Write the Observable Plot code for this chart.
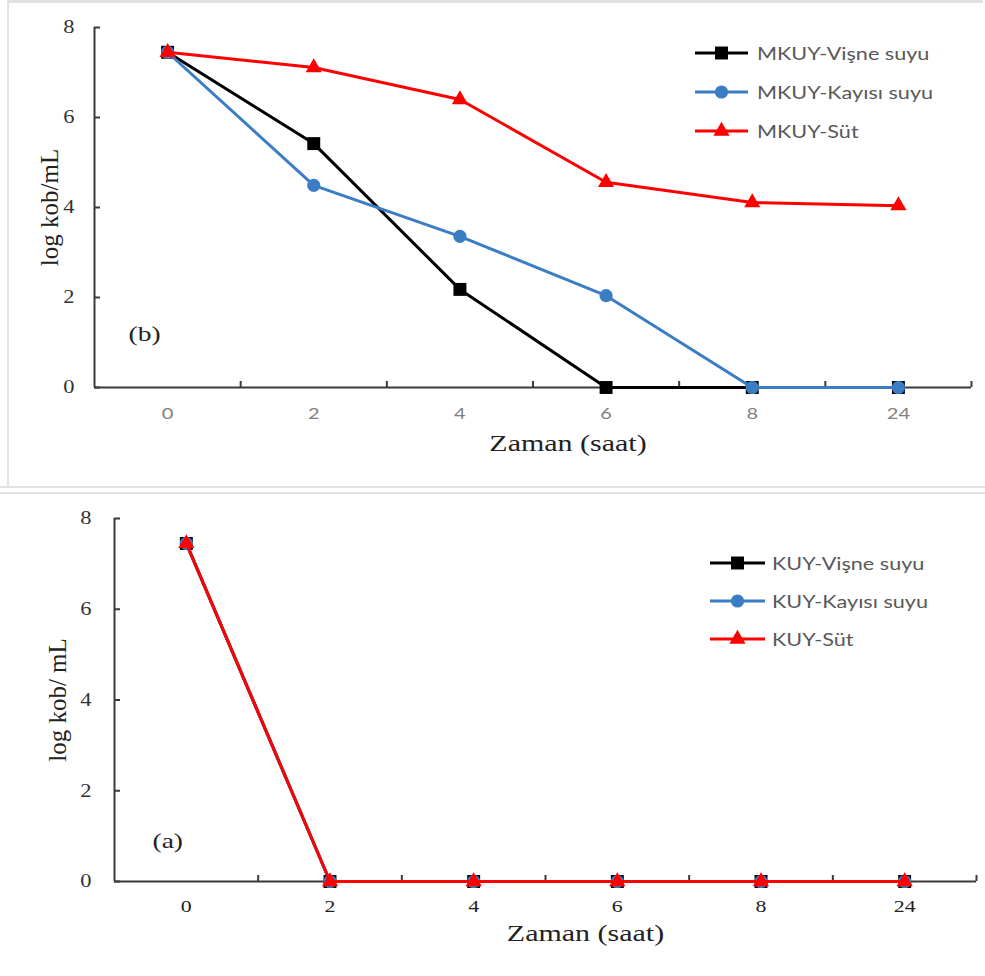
<!DOCTYPE html>
<html><head><meta charset="utf-8">
<script src="https://cdn.jsdelivr.net/npm/d3@7"></script>
<script src="https://cdn.jsdelivr.net/npm/@observablehq/plot@0.6"></script>
<style>
body{margin:0;background:#fff;}
#root{position:relative;width:985px;height:976px;overflow:hidden;background:#fff;}
.panel{position:absolute;left:0;width:985px;}
.panel svg{display:block;}
.row{position:absolute;display:flex;align-items:center;height:20px;}
.row svg{display:block;flex:none;}
.row span{font-family:Lato,"Open Sans",sans-serif;font-size:18px;color:#595959;transform:scaleX(1.2);transform-origin:left center;white-space:nowrap;line-height:20px;}
.line{position:absolute;background:#e2e2e2;}
</style></head>
<body><div id="root"></div>
<script>
// ---- data ----
const times = ["0", "2", "4", "6", "8", "24"];
const yTicks = [0, 2, 4, 6, 8];
const namesB = ["MKUY-Vişne suyu", "MKUY-Kayısı suyu", "MKUY-Süt"];
const namesA = ["KUY-Vişne suyu", "KUY-Kayısı suyu", "KUY-Süt"];
const visneB = [7.45, 5.42, 2.18, 0, 0, 0];
const kayisiB = [7.45, 4.49, 3.36, 2.04, 0, 0];
const sutB = [7.45, 7.11, 6.40, 4.56, 4.11, 4.04];
const visneA = [7.45, 0, 0, 0, 0, 0];
const kayisiA = [7.45, 0, 0, 0, 0, 0];
const sutA = [7.45, 0, 0, 0, 0, 0];
const xTitle = "Zaman (saat)";
const yTitleB = "log kob/mL";
const yTitleA = "log kob/ mL";

// ---- styles ----
const colors = ["#000000", "#3b7dc4", "#ff0000"];
const symbols = ["square", "circle", "triangle"];
const markerR = [7.3, 6.6, 6.0];
const serif = "Liberation Serif, Times New Roman, serif";
const sans = "Lato, Open Sans, sans-serif";
const STRETCH = 1.25;
const axisColor = "#3a3a3a";

const root = document.getElementById("root");

function rows(vals) { return vals.map((v, i) => ({i, t: times[i], v})); }

function stretch(svg) {
  svg.querySelectorAll("text").forEach(t => {
    const tr = t.getAttribute("transform") || "";
    if (/rotate/.test(tr)) return;
    const x = +(t.getAttribute("x") || 0);
    t.setAttribute("transform", `${tr} translate(${x},0) scale(${STRETCH},1) translate(${-x},0)`);
  });
}

function drawPanel(cfg) {
  const xDomain = [-0.5, times.length - 0.5];
  const bounds = d3.range(1, times.length + 1).map(k => k - 0.5);
  const marks = [
    Plot.ruleY([0], {stroke: axisColor, strokeWidth: 2}),
    Plot.ruleX([xDomain[0]], {stroke: axisColor, strokeWidth: 2}),
    Plot.axisX({ticks: bounds, tickSize: 6, dy: -6, tickFormat: () => "", stroke: axisColor, strokeWidth: 2, label: null}),
    Plot.axisY({ticks: yTicks, tickSize: 6, dx: 6, tickFormat: () => "", stroke: axisColor, strokeWidth: 2, label: null}),
    Plot.axisX({ticks: d3.range(times.length), tickSize: 0, tickPadding: cfg.xTickPad, tickFormat: i => times[i],
      fontFamily: cfg.xTickFont, fontSize: cfg.xTickSize, fill: cfg.xTickColor, label: null}),
    Plot.axisY({ticks: yTicks, tickSize: 0, tickPadding: cfg.yTickPad, fontFamily: serif, fontSize: 18, fill: "#333", label: null})
  ];
  cfg.values.forEach((vals, k) => {
    const data = rows(vals);
    marks.push(Plot.line(data, {x: "i", y: "v", stroke: colors[k], strokeWidth: 3}));
    marks.push(Plot.dot(data, {x: "i", y: "v", symbol: () => symbols[k], r: markerR[k], fill: colors[k], stroke: "none"}));
  });
  marks.push(Plot.text([cfg.yTitle], {text: d => d, frameAnchor: "left", textAnchor: "middle", rotate: -90, dx: cfg.yTitleDx,
    fontFamily: serif, fontSize: 25, fill: "#222"}));
  marks.push(Plot.text([xTitle], {text: d => d, frameAnchor: "bottom", textAnchor: "middle", dx: cfg.xTitleDx, dy: cfg.xTitleDy,
    fontFamily: serif, fontSize: 24, fill: "#222"}));
  marks.push(Plot.text([cfg.letter], {text: d => d, frameAnchor: "bottom-left", textAnchor: "start", dx: cfg.letterDx, dy: cfg.letterDy,
    fontFamily: serif, fontSize: 22, fill: "#222"}));

  const svg = Plot.plot({
    width: 985, height: cfg.height,
    marginLeft: cfg.m[0], marginRight: cfg.m[1], marginTop: cfg.m[2], marginBottom: cfg.m[3],
    x: {type: "linear", domain: xDomain},
    y: {domain: [0, 8]},
    style: {background: "transparent", overflow: "visible"},
    marks
  });
  stretch(svg);
  const div = document.createElement("div");
  div.className = "panel";
  div.style.top = cfg.top + "px";
  div.style.height = cfg.height + "px";
  div.appendChild(svg);
  root.appendChild(div);

  // legend
  cfg.names.forEach((name, k) => {
    const row = document.createElement("div");
    row.className = "row";
    row.style.left = cfg.legend.x + "px";
    row.style.top = (cfg.legend.ys[k] - 10) + "px";
    const sw = d3.create("svg").attr("width", cfg.legend.sw).attr("height", 20);
    sw.append("line").attr("x1", 0).attr("x2", cfg.legend.len).attr("y1", 10).attr("y2", 10)
      .attr("stroke", colors[k]).attr("stroke-width", 3);
    const sym = {square: d3.symbolSquare, circle: d3.symbolCircle, triangle: d3.symbolTriangle}[symbols[k]];
    sw.append("path").attr("d", d3.symbol(sym, Math.PI * markerR[k] * markerR[k])())
      .attr("transform", `translate(${cfg.legend.len / 2},10)`).attr("fill", colors[k]);
    row.appendChild(sw.node());
    const span = document.createElement("span");
    span.textContent = name;
    row.appendChild(span);
    root.appendChild(row);
  });
}

drawPanel({
  top: 0, height: 486, m: [94, 14, 27, 99],
  values: [visneB, kayisiB, sutB], names: namesB,
  xTickFont: sans, xTickSize: 16, xTickColor: "#808080", xTickPad: 20, yTickPad: 20,
  yTitle: yTitleB, yTitleDx: -45, xTitleDx: 35, xTitleDy: 63,
  letter: "(b)", letterDx: 34, letterDy: -47,
  legend: {x: 695, ys: [53, 92, 131], sw: 62, len: 53}
});

drawPanel({
  top: 494, height: 482, m: [114, 9, 24, 95],
  values: [visneA, kayisiA, sutA], names: namesA,
  xTickFont: serif, xTickSize: 17.5, xTickColor: "#222", xTickPad: 18, yTickPad: 23,
  yTitle: yTitleA, yTitleDx: -57, xTitleDx: 40, xTitleDy: 59,
  letter: "(a)", letterDx: 38, letterDy: -34,
  legend: {x: 710, ys: [563, 601, 639], sw: 62, len: 55}
});

// panel frames
[[7, 0, 976, 3], [7, 0, 2, 486], [0, 486, 985, 2], [0, 492, 985, 2]].forEach(([l, t, w, h]) => {
  const d = document.createElement("div");
  d.className = "line";
  Object.assign(d.style, {left: l + "px", top: t + "px", width: w + "px", height: h + "px"});
  root.appendChild(d);
});
</script>
</body></html>
